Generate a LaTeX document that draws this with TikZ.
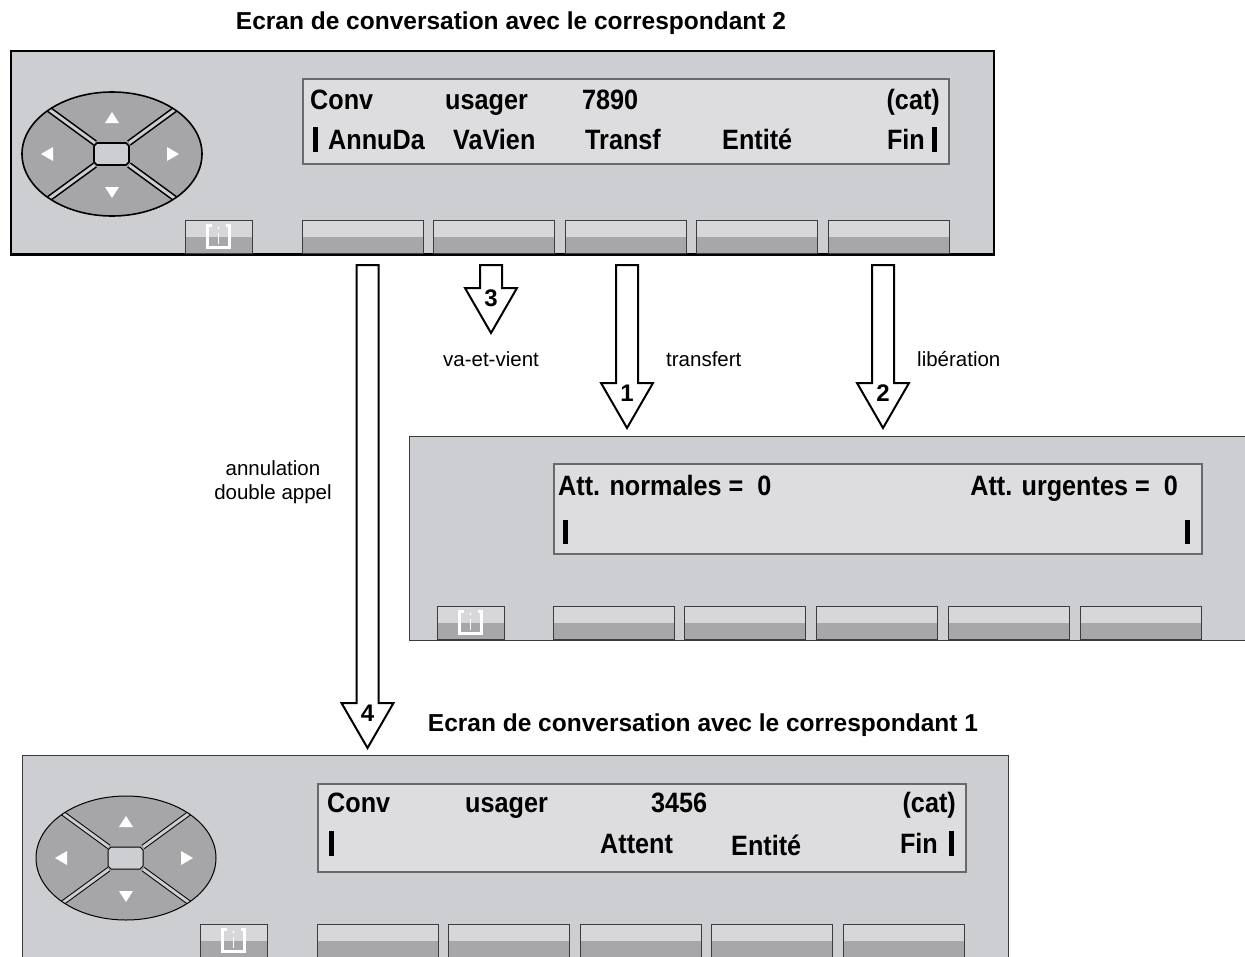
\documentclass[tikz,border=0pt]{standalone}
\usepackage{fontspec}
\setmainfont{Liberation Sans}
\newfontfamily\lcdfont[FakeStretch=0.9]{Liberation Sans}
\usetikzlibrary{calc}

\definecolor{panelgray}{RGB}{205,206,209}
\definecolor{lcdgray}{RGB}{221,221,224}
\definecolor{lcdline}{RGB}{105,105,108}
\definecolor{keylight}{RGB}{215,215,218}
\definecolor{keydark}{RGB}{167,167,169}
\definecolor{keyline}{RGB}{60,60,62}
\definecolor{navgray}{RGB}{166,166,168}

% block arrow from a start point down to a tip, with its number in the head
\newcommand{\blockarrow}[4]{%
  \draw[blockarr] let \p1=(#1), \p2=(#2) in
    (\x1-11pt,\y1) -- (\x1+11pt,\y1) -- (\x1+11pt,\y2+45pt)
    -- (\x1+26pt,\y2+45pt) -- (\x1,\y2) -- (\x1-26pt,\y2+45pt)
    -- (\x1-11pt,\y2+45pt) -- cycle
    (\x1,\y2+35pt) node[arrnum] (#4) {#3};
}

% navigation pad centred at #1, line width #2
\newcommand{\navpad}[2]{%
  \begin{scope}[shift={(#1)}]
    \fill[navgray] (0,0) ellipse [x radius=90pt, y radius=62pt];
    \begin{scope}
      \clip (0,0) ellipse [x radius=90pt, y radius=62pt];
      \foreach \sx/\sy in {-1/-1,1/-1,-1/1,1/1}
        \draw[line width=#2+#2+3pt, black] (\sx*17,\sy*11) -- (\sx*80,\sy*57);
      \foreach \sx/\sy in {-1/-1,1/-1,-1/1,1/1}
        \draw[line width=3pt, panelgray] (\sx*17,\sy*11) -- (\sx*80,\sy*57);
    \end{scope}
    \draw[line width=#2] (0,0) ellipse [x radius=90pt, y radius=62pt];
    \filldraw[fill=panelgray, line width=#2]
      (-15,-11) -- (14,-11) -- (17,-8) -- (17,8) -- (14,11)
      -- (-15,11) -- (-18,8) -- (-18,-8) -- cycle;
    \fill[white] (0,-42) -- (7,-31) -- (-7,-31) -- cycle;
    \fill[white] (0,44) -- (7,33) -- (-7,33) -- cycle;
    \fill[white] (-71,0) -- (-59,-7) -- (-59,7) -- cycle;
    \fill[white] (67,0) -- (55,-7) -- (55,7) -- cycle;
  \end{scope}
}

\begin{document}
\begin{tikzpicture}[
    x=1pt, y=-1pt,
    panel/.style={
        fill=panelgray,
        draw=#1,
        line width=1.2pt,
        anchor=north west,
        inner sep=0pt
    },
    lcd/.style={
        fill=lcdgray,
        draw=lcdline,
        line width=2pt,
        anchor=north west,
        inner sep=0pt
    },
    softkey/.style={
        fill=keylight,
        draw=keyline,
        line width=1pt,
        anchor=north west,
        inner sep=0pt,
        outer sep=0pt,
        minimum width=121,
        minimum height=33,
        path picture={\fill[keydark] (path picture bounding box.west)
          rectangle (path picture bounding box.south east);}
    },
    infokey/.style={
        softkey,
        minimum width=67,
        path picture={
          \fill[keydark] (path picture bounding box.west)
            rectangle (path picture bounding box.south east);
          \draw[white, line width=2.4pt, line join=miter]
            ([shift={(-7,-11)}]path picture bounding box.center)
            -- ++(-4,0) -- ++(0,22) -- ++(22,0) -- ++(0,-22) -- ++(-4,0);
          \draw[white, line width=1.6pt]
            ([shift={(0,-4)}]path picture bounding box.center) -- ++(0,11);
          \fill[white] ([shift={(0,-8.5)}]path picture bounding box.center)
            circle (1.2pt);}
    },
    lcdtxt/.style={font=\lcdfont\bfseries\fontsize{28}{30}\selectfont, inner sep=0pt},
    title/.style={font=\bfseries\fontsize{24.5}{28}\selectfont, inner sep=0pt, anchor=base},
    lbl/.style={font=\fontsize{20.5}{24}\selectfont, inner sep=0pt},
    arrnum/.style={font=\bfseries\fontsize{24}{26}\selectfont, inner sep=0pt},
    blockarr/.style={draw=black, fill=white, line width=2pt, line join=miter}
]
\useasboundingbox (0,0) rectangle (1245,956);
\clip (0,0) rectangle (1245,956);

% screen 2 (top)
\node[title] (title2) at (511,29) {Ecran de conversation avec le correspondant 2};
\node[panel=black, line width=1.5pt, minimum width=983, minimum height=203] (conv2) at (10,50) {};
\draw[line width=2.5pt] (conv2.south west) -- (conv2.south east);
\navpad{112,154}{1.6pt}
\node[lcd, minimum width=646, minimum height=85] (lcd2) at (302,78) {};
\node[lcdtxt, anchor=base west] (c2conv) at (310,109) {Conv};
\node[lcdtxt, anchor=base west] (c2usr) at (445,109) {usager};
\node[lcdtxt, anchor=base west] (c2num) at (582,109) {7890};
\node[lcdtxt, anchor=base east] (c2cat) at (940,109) {(cat)};
\node[lcdtxt, anchor=base west] (c2annu) at (328,149) {AnnuDa};
\node[lcdtxt, anchor=base west] (c2vav) at (453,149) {VaVien};
\node[lcdtxt, anchor=base west] (c2trf) at (585,149) {Transf};
\node[lcdtxt, anchor=base west] (c2ent) at (722,149) {Entité};
\node[lcdtxt, anchor=base east] (c2fin) at (925,149) {Fin};
\fill (313,127) rectangle (318,152);
\fill (932,127) rectangle (937,152);
\node[infokey] (i2) at (185,220) {};
\foreach \n [count=\i from 0] in {a,b,c,d,e}
  \node[softkey] (k2\n) at ({302+\i*131.5},220) {};

% waiting screen (middle)
\node[panel=keyline, minimum width=860, minimum height=204] (attente) at (409,436) {};
\node[lcd, minimum width=648, minimum height=90] (lcd0) at (553,463) {};
\node[lcdtxt, anchor=base west] (attn) at (558,495) {Att. normales =\ \ 0};
\node[lcdtxt, anchor=base east] (attu) at (1178,495) {Att. urgentes =\ \ 0};
\fill (563,520) rectangle (568,544);
\fill (1185,520) rectangle (1190,544);
\node[infokey] (i0) at (437,606) {};
\foreach \n [count=\i from 0] in {a,b,c,d,e}
  \node[softkey] (k0\n) at ({553+\i*131.75},606) {};

% screen 1 (bottom)
\node[title] (title1) at (703,731) {Ecran de conversation avec le correspondant 1};
\node[panel=keyline, minimum width=986, minimum height=240] (conv1) at (22,755) {};
\navpad{126,858}{1pt}
\node[lcd, minimum width=648, minimum height=88] (lcd1) at (317,783) {};
\node[lcdtxt, anchor=base west] (c1conv) at (327,812) {Conv};
\node[lcdtxt, anchor=base west] (c1usr) at (465,812) {usager};
\node[lcdtxt, anchor=base west] (c1num) at (651,812) {3456};
\node[lcdtxt, anchor=base east] (c1cat) at (956,812) {(cat)};
\node[lcdtxt, anchor=base west] (c1att) at (600,853) {Attent};
\node[lcdtxt, anchor=base west] (c1ent) at (731,855) {Entité};
\node[lcdtxt, anchor=base east] (c1fin) at (938,853) {Fin};
\fill (329,831) rectangle (334,856);
\fill (949,831) rectangle (954,856);
\node[infokey] (i1) at (200,924) {};
\foreach \n [count=\i from 0] in {a,b,c,d,e}
  \node[softkey] (k1\n) at ({317+\i*131.5},924) {};

% arrows
\coordinate (a4s) at ($(k2a.south)+(5,12)$);
\coordinate (a4e) at ($(k2a.south |- conv1.north)+(5,-7)$);
\coordinate (a3s) at ($(k2b.south)+(-3,12)$);
\coordinate (a3e) at ($(k2b.south)+(-3,80)$);
\coordinate (a1s) at ($(k2c.south)+(1.5,12)$);
\coordinate (a1e) at ($(k2c.south |- attente.north)+(1.5,-8)$);
\coordinate (a2s) at ($(k2e.south)+(-5.5,12)$);
\coordinate (a2e) at ($(k2e.south |- attente.north)+(-5.5,-8)$);
\blockarrow{a4s}{a4e}{4}{n4}
\blockarrow{a3s}{a3e}{3}{n3}
\blockarrow{a1s}{a1e}{1}{n1}
\blockarrow{a2s}{a2e}{2}{n2}

\node[lbl] (vav) at (491,359) {va-et-vient};
\node[lbl, anchor=west] (trf) at (666,359) {transfert};
\node[lbl, anchor=west] (lib) at (917,359) {libération};
\node[lbl, align=center, font=\fontsize{20.5}{24}\selectfont] (annul) at (273,482) {annulation\\double appel};

\end{tikzpicture}
\end{document}
